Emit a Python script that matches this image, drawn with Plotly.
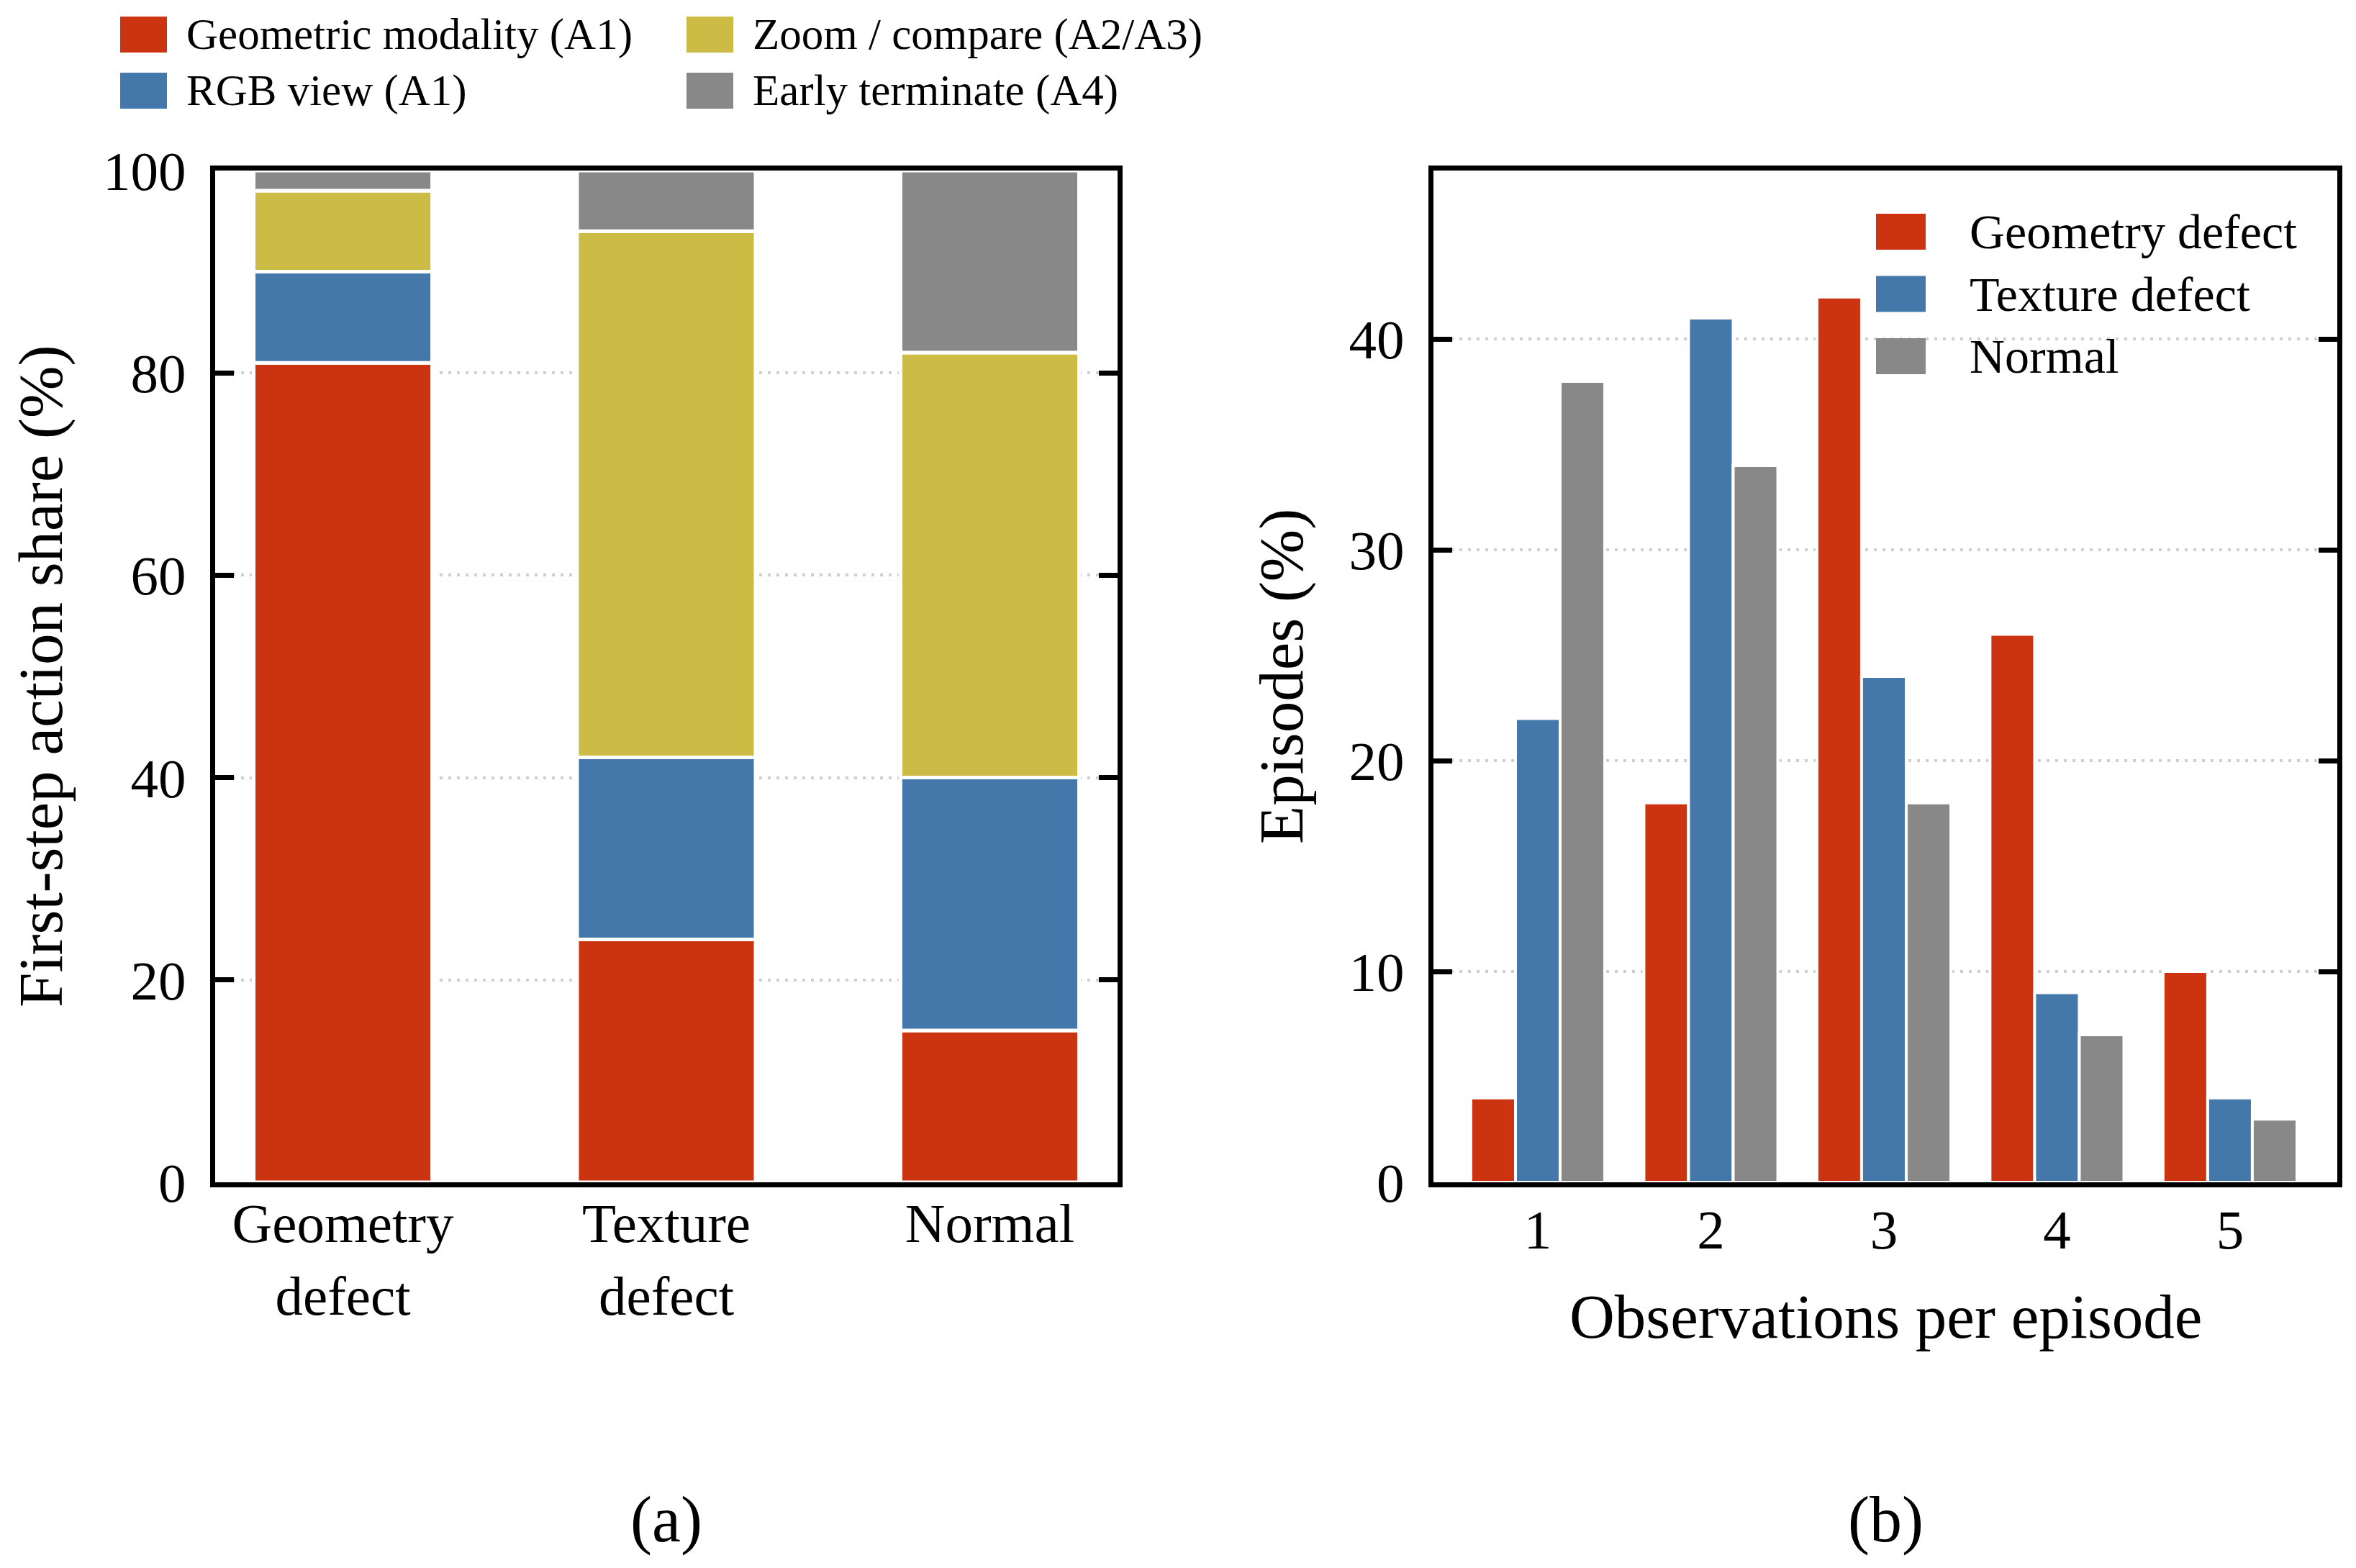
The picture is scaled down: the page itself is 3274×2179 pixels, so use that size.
import plotly.graph_objects as go

W, H = 3274, 2179
FONT = "Liberation Serif"

# (a) first-step action share (%) per class
classes = ["Geometry<br>defect", "Texture<br>defect", "Normal"]
action_names = ["Geometric modality (A1)", "RGB view (A1)",
                "Zoom / compare (A2/A3)", "Early terminate (A4)"]
geometric_share = [81, 24, 15]
rgb_share = [9, 18, 25]
zoom_share = [8, 52, 42]
terminate_share = [2, 6, 18]

# (b) observations per episode (% of episodes)
obs_counts = [1, 2, 3, 4, 5]
episode_names = ["Geometry defect", "Texture defect", "Normal"]
geometry_episodes = [4, 18, 42, 26, 10]
texture_episodes = [22, 41, 24, 9, 4]
normal_episodes = [38, 34, 18, 7, 3]

RED, BLUE, YELLOW, GRAY = "#CC3311", "#4477AA", "#CCBB44", "#888888"
action_colors = [RED, BLUE, YELLOW, GRAY]
episode_colors = [RED, BLUE, GRAY]


def px(x):
    return x / W


def py(y):
    return 1 - y / H


fig = go.Figure()

# stacked bars, left panel
shares = [geometric_share, rgb_share, zoom_share, terminate_share]
base = [0] * len(classes)
for name, vals, col in zip(action_names, shares, action_colors):
    fig.add_trace(go.Bar(
        x=classes, y=vals, base=base, name=name, width=0.552,
        marker=dict(color=col, line=dict(color="white", width=5)),
        xaxis="x", yaxis="y", showlegend=False,
    ))
    base = [b + v for b, v in zip(base, vals)]

# grouped bars, right panel
episodes = [geometry_episodes, texture_episodes, normal_episodes]
offsets = [-0.387, -0.129, 0.129]
for name, vals, col, off in zip(episode_names, episodes, episode_colors, offsets):
    fig.add_trace(go.Bar(
        x=obs_counts, y=vals, name=name, width=0.258, offset=off,
        marker=dict(color=col, line=dict(color="white", width=4)),
        xaxis="x2", yaxis="y2", showlegend=False,
    ))

tick_font = dict(family=FONT, size=77, color="black")
frame = dict(showline=True, linecolor="black", linewidth=7,
             zeroline=False, tickfont=tick_font)
grid = dict(showgrid=True, gridcolor="#cfcfcf", gridwidth=4, griddash="4px,8px")
yticks = dict(ticks="inside", ticklen=26, tickwidth=7, tickcolor="black",
              ticklabelstandoff=18, mirror="ticks")

ydom = [py(1643), py(237)]

fig.update_layout(
    width=W, height=H,
    margin=dict(l=0, r=0, t=0, b=0),
    template="none",
    paper_bgcolor="white", plot_bgcolor="white",
    barmode="overlay",
    font=dict(family=FONT, color="black"),
    xaxis=dict(domain=[px(299), px(1553)], anchor="y", range=[-0.395, 2.395],
               ticks="", showgrid=False, ticklabelstandoff=-16, mirror=True, **frame),
    yaxis=dict(domain=ydom, anchor="x", range=[0, 100], tickvals=[0, 20, 40, 60, 80, 100],
               **yticks, **grid, **frame),
    xaxis2=dict(domain=[px(1992), px(3248)], anchor="y2", range=[0.397, 5.62],
                tickvals=obs_counts, ticks="", showgrid=False, ticklabelstandoff=-7,
                mirror=True, **frame),
    xaxis3=dict(overlaying="x2", anchor="y2", side="top", range=[0.397, 5.62],
                tickvals=obs_counts, ticks="inside", ticklen=26, tickwidth=7,
                tickcolor="black", showticklabels=False, showline=False,
                showgrid=False, zeroline=False),
    yaxis2=dict(domain=ydom, anchor="x2", range=[0, 48], tickvals=[0, 10, 20, 30, 40],
                **yticks, **grid, **frame),
)

shapes = []
annotations = []

# legend for panel (a), two columns
legend_a = [(action_names[0], action_colors[0], 167, 48),
            (action_names[1], action_colors[1], 167, 126),
            (action_names[2], action_colors[2], 954, 48),
            (action_names[3], action_colors[3], 954, 126)]
for name, col, x0, yc in legend_a:
    shapes.append(dict(type="rect", xref="paper", yref="paper",
                       x0=px(x0), x1=px(x0 + 65), y0=py(yc - 25), y1=py(yc + 25),
                       fillcolor=col, line=dict(width=0)))
    annotations.append(dict(text=name, x=px(x0 + 90), y=py(yc), xref="paper", yref="paper",
                            xanchor="left", yanchor="middle", showarrow=False,
                            font=dict(family=FONT, size=61, color="black")))

# legend for panel (b)
for i, (name, col) in enumerate(zip(episode_names, episode_colors)):
    yc = 322 + 86.5 * i
    shapes.append(dict(type="rect", xref="paper", yref="paper",
                       x0=px(2607), x1=px(2676), y0=py(yc - 25), y1=py(yc + 25),
                       fillcolor=col, line=dict(width=0)))
    annotations.append(dict(text=name, x=px(2735), y=py(yc), xref="paper", yref="paper",
                            xanchor="left", yanchor="middle", showarrow=False,
                            font=dict(family=FONT, size=68, color="black")))

title_font = dict(family=FONT, size=87, color="black")
centered = dict(xref="paper", yref="paper", xanchor="center", yanchor="middle",
                showarrow=False)
annotations += [
    dict(text="First-step action share (%)", x=px(56), y=py(940), textangle=-90,
         font=title_font, **centered),
    dict(text="Episodes (%)", x=px(1780), y=py(940), textangle=-90,
         font=title_font, **centered),
    dict(text="Observations per episode", x=px(2620), y=py(1829),
         font=title_font, **centered),
    dict(text="(a)", x=px(926), y=py(2112),
         font=dict(family=FONT, size=90, color="black"), **centered),
    dict(text="(b)", x=px(2620), y=py(2112),
         font=dict(family=FONT, size=90, color="black"), **centered),
]

fig.update_layout(shapes=shapes, annotations=annotations)
fig.write_html("out.html", config={"displayModeBar": False},
               post_script="document.body.style.margin = '0';")
